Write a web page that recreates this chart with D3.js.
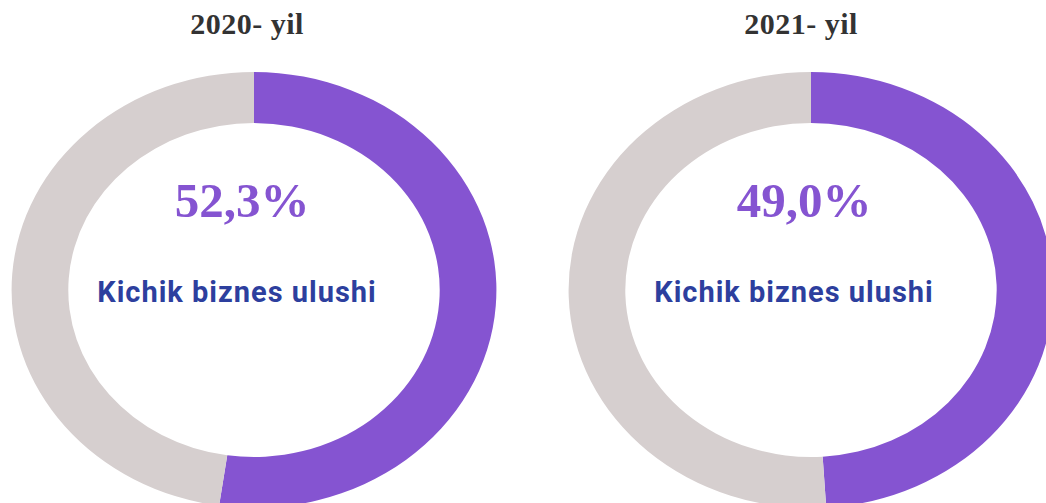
<!DOCTYPE html>
<html>
<head>
<meta charset="utf-8">
<script src="https://cdn.jsdelivr.net/npm/d3@7"></script>
<style>
  html, body { margin: 0; padding: 0; background: #ffffff; }
  svg { display: block; }
</style>
</head>
<body>
<div id="wrapper"></div>
<script>
// chart data
const years = ['2020- yil', '2021- yil']
const shares = [52.3, 49.0]
const shareLabels = ['52,3%', '49,0%']
const centerLabel = 'Kichik biznes ulushi'

const width = 1046
const height = 503
const colors = { share: '#8554d1', rest: '#d6cfcf' }

const svg = d3
  .select('#wrapper')
  .append('svg')
  .attr('width', width)
  .attr('height', height)

// horizontal position of each donut
const xScale = d3.scalePoint().domain(years).range([254, 811])
const cy = 290
const stretchX = 1.112 // the source donuts are slightly wider than tall

const pie = d3.pie().sort(null).value((d) => d)
const arc = d3.arc().innerRadius(167).outerRadius(218)

years.forEach((year, i) => {
  const cx = xScale(year)
  const g = svg
    .append('g')
    .attr('transform', `translate(${cx},${cy}) scale(${stretchX},1)`)

  g.selectAll('path')
    .data(pie([shares[i], 100 - shares[i]]))
    .join('path')
    .attr('d', arc)
    .attr('fill', (d, j) => (j === 0 ? colors.share : colors.rest))

  // year title
  svg
    .append('text')
    .attr('x', cx - 7 - i * 3)
    .attr('y', 34)
    .attr('text-anchor', 'middle')
    .attr('font-family', '"Liberation Serif", "Times New Roman", serif')
    .attr('font-weight', 'bold')
    .attr('font-size', 30)
    .attr('letter-spacing', 0.5)
    .attr('fill', '#333333')
    .text(year)

  // share value
  svg
    .append('text')
    .attr('x', cx - 12 - i * -5)
    .attr('y', 217)
    .attr('text-anchor', 'middle')
    .attr('font-family', '"Liberation Serif", "Times New Roman", serif')
    .attr('font-weight', 'bold')
    .attr('font-size', 49)
    .attr('fill', colors.share)
    .text(shareLabels[i])

  // label
  svg
    .append('text')
    .attr('x', cx - 17)
    .attr('y', 302)
    .attr('text-anchor', 'middle')
    .attr('font-family', 'Roboto, "Liberation Sans", sans-serif')
    .attr('font-weight', 'bold')
    .attr('font-size', 29)
    .attr('letter-spacing', 1)
    .attr('fill', '#2d3f9e')
    .text(centerLabel)
})
</script>
</body>
</html>
